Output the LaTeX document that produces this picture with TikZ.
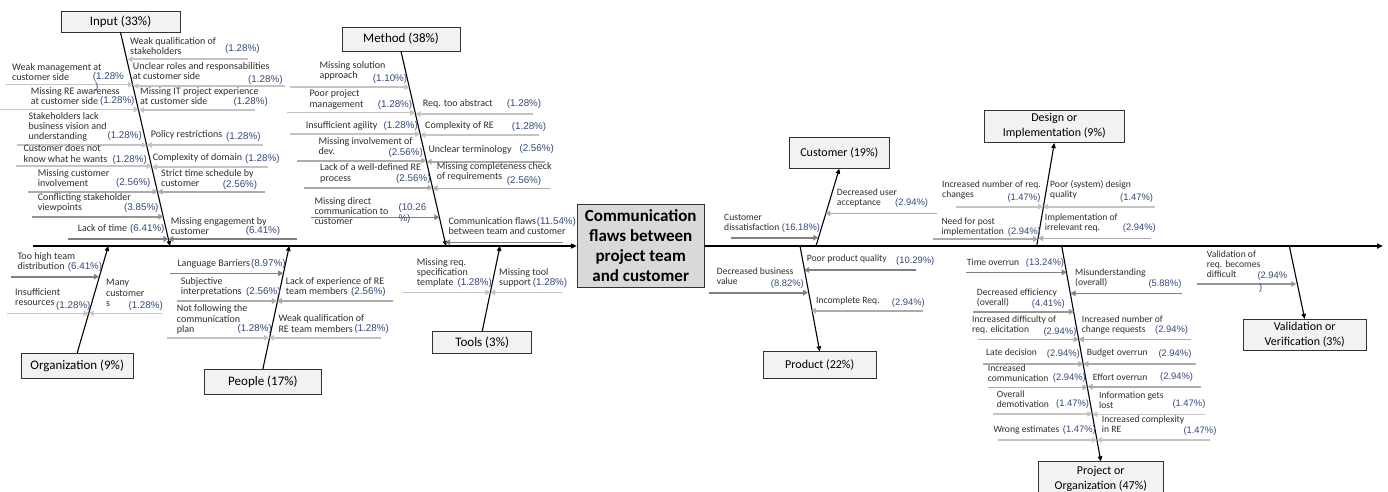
\documentclass[tikz,border=0pt]{standalone}
\usepackage{fontspec}
\setmainfont{Carlito}
\newfontfamily\pctfont{Liberation Sans}
\usetikzlibrary{arrows.meta}
\definecolor{pctblue}{RGB}{52,72,122}
\definecolor{ga}{RGB}{196,196,196}
\definecolor{gb}{RGB}{171,171,171}
\definecolor{gc}{RGB}{150,150,150}
\definecolor{gd}{RGB}{128,128,128}
\definecolor{boxfill}{RGB}{242,242,242}
\definecolor{mainfill}{RGB}{217,217,217}
\newcounter{labc}
\newcounter{pctc}
\newcommand\clab[3]{\stepcounter{labc}\node[lbl] (lab\arabic{labc}) at (#1,#2-7) {\rule{0pt}{7pt}#3};}
\newcommand\cpct[3]{\stepcounter{pctc}\node[pct] (pct\arabic{pctc}) at (#1,#2) {#3};}
\newcommand\carr[4]{\draw[sub,#1] (#2,#3) -- (#4,#3);}
\begin{document}
\begin{tikzpicture}[x=1pt,y=-1pt,
  lbl/.style={anchor=north west,inner sep=0pt,align=left,font=\fontsize{10}{10.2}\selectfont,text=black!82},
  pct/.style={anchor=base west,inner sep=0pt,font=\pctfont\fontsize{9.8}{10}\selectfont,text=pctblue},
  sub/.style={line width=1.6pt,-{Triangle[length=5pt,width=5.5pt]}},
  cat/.style={draw=black!80,fill=boxfill,line width=0.8pt,inner sep=0pt,align=center,font=\fontsize{13}{15}\selectfont},
  catr/.style={cat,font=\fontsize{12}{15}\selectfont},
  branch/.style={line width=1.1pt,draw=black,-{Triangle[length=5pt,width=4.5pt]}},
  spine/.style={line width=1.6pt,draw=black,-{Triangle[length=6pt,width=5pt]}}]
\fill[white] (0,0) rectangle (1388,492);
\useasboundingbox (0,0) rectangle (1388,492);

% main effect
\node[draw=black!80,fill=mainfill,line width=0.9pt,minimum width=126.7,minimum height=83.3,inner sep=0pt,align=center,font=\bfseries\fontsize{17}{20}\selectfont] (main) at (640.7,246) {Communication\\flaws between\\project team\\and customer};
\coordinate (sL) at (33,246);
\coordinate (sR) at (1383,246);
\draw[spine] (sL) -- (main.west);
\draw[spine] (main.east) -- (sR);

% category boxes
\node[cat,minimum width=119,minimum height=21] (input) at (120.5,21.5) {Input (33\%)};
\node[cat,minimum width=118,minimum height=24] (method) at (401,39) {Method (38\%)};
\node[cat,minimum width=112.3,minimum height=24.7] (org) at (77.2,365.7) {Organization (9\%)};
\node[cat,minimum width=117.7,minimum height=24.7] (people) at (262.9,381.7) {People (17\%)};
\node[cat,minimum width=99,minimum height=21.6] (tools) at (482.2,342.5) {Tools (3\%)};
\node[catr,minimum width=100,minimum height=31] (customer) at (839.3,152.8) {Customer (19\%)};
\node[catr,minimum width=112.7,minimum height=26.6] (product) at (819.7,365) {Product (22\%)};
\node[catr,minimum width=140,minimum height=32.7] (design) at (1054.3,126.3) {Design or\\Implementation (9\%)};
\node[catr,minimum width=125,minimum height=34.6] (project) at (1100.8,479) {Project or\\Organization (47\%)};
\node[catr,minimum width=122.7,minimum height=31.4] (valid) at (1304.7,335) {Validation or\\Verification (3\%)};

% points on spine
\coordinate (pInput) at (170,246);
\coordinate (pMethod) at (446,246);
\coordinate (pOrg) at (108.3,246);
\coordinate (pPeople) at (289.3,246);
\coordinate (pTools) at (500,246);
\coordinate (pCust) at (816,246);
\coordinate (pProd) at (800,246);
\coordinate (pDesign) at (1036.7,246);
\coordinate (pProj) at (1061.7,246);
\coordinate (pValid) at (1289.3,246);

\draw[branch] (input.south) -- (pInput);
\draw[branch] (method.south) -- (pMethod);
\draw[branch] (org.north) -- (pOrg);
\draw[branch] (people.north) -- (pPeople);
\draw[branch] (tools.north) -- (pTools);
\draw[branch] (pCust) -- (customer.south);
\draw[branch] (pProd) -- (product.north);
\draw[branch] (pDesign) -- (design.south);
\draw[branch] (pProj) -- (project.north);
\draw[branch] (pValid) -- (valid.north);

% ---------- Input ----------
\carr{ga}{248}{59.3}{127.3}
\clab{130}{44.3}{Weak qualification of\\stakeholders}
\cpct{225}{51.7}{(1.28\%)}
\carr{ga}{285}{86}{133.4}
\clab{132.7}{69.3}{Unclear roles and responsabilities\\at customer side}
\cpct{248}{82.3}{(1.28\%)}
\carr{ga}{255}{110}{138.9}
\clab{140}{94.3}{Missing IT project experience\\at customer side}
\cpct{233.3}{104.3}{(1.28\%)}
\carr{ga}{263}{145}{146.9}
\clab{150.7}{137.7}{Policy restrictions}
\cpct{226}{139.3}{(1.28\%)}
\carr{ga}{268}{167}{151.9}
\clab{152.7}{160}{Complexity of domain}
\cpct{245}{161.7}{(1.28\%)}
\carr{gb}{265}{191.7}{157.6}
\clab{161}{176}{Strict time schedule by\\customer}
\cpct{222.7}{187.7}{(2.56\%)}
\carr{gd}{297}{239}{168.4}
\clab{170.7}{224}{Missing engagement by\\customer}
\cpct{245.7}{233.3}{(6.41\%)}

\carr{ga}{6}{84.5}{133}
\clab{12}{70}{Weak management at\\customer side}
\node[pct,anchor=north west,align=left,font=\pctfont\fontsize{9.8}{8}\selectfont] (pctwm) at (92.7,72) {(1.28\%\\\hspace{2.3pt})};
\carr{ga}{0}{109.5}{138.7}
\clab{30.7}{94.3}{Missing RE awareness\\at customer side}
\cpct{100}{104}{(1.28\%)}
\carr{ga}{17}{145}{146.9}
\clab{28.3}{119}{Stakeholders lack\\business vision and\\understanding}
\cpct{107.3}{138.3}{(1.28\%)}
\carr{ga}{16}{166}{151.7}
\clab{23.3}{151.7}{Customer does not\\know what he wants}
\cpct{112.3}{162.3}{(1.28\%)}
\carr{gb}{28}{191.7}{157.6}
\clab{37.7}{176}{Missing customer\\involvement}
\cpct{116}{185.7}{(2.56\%)}
\carr{gc}{32}{216.7}{163.4}
\clab{37.7}{200}{Conflicting stakeholder\\viewpoints}
\cpct{124}{210.7}{(3.85\%)}
\carr{gd}{68}{239}{168.4}
\clab{77.7}{231}{Lack of time}
\cpct{130}{231.7}{(6.41\%)}

% ---------- Method ----------
\carr{ga}{290}{87.3}{409.4}
\clab{319.3}{68.3}{Missing solution\\approach}
\cpct{372.7}{81.7}{(1.10\%)}
\carr{ga}{287.3}{112.7}{415.2}
\clab{309.3}{96.7}{Poor project\\management}
\cpct{377.7}{107.3}{(1.28\%)}
\carr{ga}{290}{134}{420.2}
\clab{305.7}{128.3}{Insufficient agility}
\cpct{383.3}{128.3}{(1.28\%)}
\carr{gb}{297.3}{160.7}{426.3}
\clab{318.3}{144}{Missing involvement of\\dev.}
\cpct{388.3}{155.7}{(2.56\%)}
\carr{gb}{304}{187.7}{432.5}
\clab{320}{170}{Lack of a well-defined RE\\[1pt]process}
\cpct{396}{181.7}{(2.56\%)}
\carr{gd}{310.7}{217.3}{439.3}
\clab{314.3}{204}{Missing direct\\communication to\\customer}
\cpct{398.3}{210}{(10.26}
\cpct{398.3}{221.7}{\%)}

\carr{ga}{533.3}{114}{415.5}
\clab{422.7}{106}{Req. too abstract}
\cpct{506.7}{106.7}{(1.28\%)}
\carr{ga}{539.3}{135}{420.4}
\clab{425}{128.3}{Complexity of RE}
\cpct{511.7}{129.3}{(1.28\%)}
\carr{gb}{545}{161.7}{426.6}
\clab{428.3}{152.3}{Unclear terminology}
\cpct{519.3}{151.7}{(2.56\%)}
\carr{gb}{550}{188.3}{432.6}
\clab{436.7}{169.3}{Missing completeness check\\of requirements}
\cpct{506.7}{183.3}{(2.56\%)}
\carr{gd}{563.3}{242.3}{445.2}
\clab{448.3}{224.3}{Communication flaws\\between team and customer}
\cpct{536.7}{224}{(11.54\%)}

% ---------- Organization ----------
\carr{gd}{11}{276.7}{99}
\clab{17.3}{259.3}{Too high team\\distribution}
\cpct{67.7}{269.3}{(6.41\%)}
\carr{ga}{7.3}{313.3}{88.6}
\clab{15}{295}{Insufficient\\resources}
\cpct{56}{308.3}{(1.28\%)}
\carr{ga}{161.7}{313.3}{88.6}
\clab{106}{285.7}{Many\\customer\\[0.6pt]s}
\cpct{128.3}{308.7}{(1.28\%)}

% ---------- People ----------
\carr{gd}{170}{273.3}{283.1}
\clab{177.3}{266.7}{Language Barriers}
\cpct{251}{266.7}{(8.97\%)}
\carr{gb}{176.7}{301}{276.9}
\clab{180.7}{284}{Subjective\\interpretations}
\cpct{246}{294}{(2.56\%)}
\carr{gb}{393.3}{301}{276.9}
\clab{285.7}{284}{Lack of experience of RE\\team members}
\cpct{351}{294}{(2.56\%)}
\carr{ga}{167.3}{337.7}{268.9}
\clab{176.7}{311.7}{Not following the\\communication\\plan}
\cpct{237.3}{331.7}{(1.28\%)}
\carr{ga}{381}{337.7}{268.9}
\clab{278.3}{321.7}{Weak qualification of\\RE team members}
\cpct{354.3}{331.7}{(1.28\%)}

% ---------- Tools ----------
\carr{ga}{401.7}{292.3}{490.4}
\clab{416.7}{265}{Missing req.\\specification\\template}
\cpct{457.3}{285}{(1.28\%)}
\carr{ga}{561.7}{292.3}{490.4}
\clab{499}{275}{Missing tool\\support}
\cpct{532.7}{285}{(1.28\%)}

% ---------- right side (effects) ----------
\begin{scope}[lbl/.append style={font=\fontsize{9.6}{10}\selectfont},
              pct/.append style={font=\pctfont\fontsize{9.4}{10}\selectfont}]
% Customer
\carr{gd}{730.7}{237.7}{818.3}
\clab{724}{220}{Customer\\dissatisfaction}
\cpct{781.7}{230}{(16.18\%)}
\carr{gb}{936.7}{213.3}{825.3}
\clab{836.7}{195}{Decreased user\\acceptance}
\cpct{895}{205}{(2.94\%)}
% Product
\carr{gd}{916}{270}{804.1}
\clab{806.7}{261.7}{Poor product quality}
\cpct{896}{263.5}{(10.29\%)}
\carr{gd}{709.3}{292.7}{808}
\clab{716.7}{274}{Decreased business\\value}
\cpct{770.7}{286.7}{(8.82\%)}
\carr{gb}{922.7}{310.7}{811.1}
\clab{816}{303.3}{Incomplete Req.}
\cpct{891.7}{305}{(2.94\%)}
% Design
\carr{ga}{956}{206.7}{1043}
\clab{942}{187.3}{Increased number of req.\\changes}
\cpct{1007.3}{200}{(1.47\%)}
\carr{ga}{1155}{206.7}{1043}
\clab{1050}{187.3}{Poor (system) design\\quality}
\cpct{1120}{200}{(1.47\%)}
\carr{gb}{933.3}{239}{1038.1}
\clab{941.3}{224}{Need for post\\implementation}
\cpct{1007.7}{234}{(2.94\%)}
\carr{gb}{1150.7}{238.3}{1038.2}
\clab{1044.7}{220.7}{Implementation of\\irrelevant req.}
\cpct{1122.7}{230.7}{(2.94\%)}
% Project
\carr{gd}{966}{272.3}{1066.7}
\clab{966.7}{265.7}{Time overrun}
\cpct{1025.7}{265.7}{(13.24\%)}
\carr{gd}{1181.7}{293.3}{1070.5}
\clab{1075}{275.7}{Misunderstanding\\(overall)}
\cpct{1148.3}{286.7}{(5.88\%)}
\carr{gc}{973.3}{311.7}{1073.9}
\clab{976.7}{295}{Decreased efficiency\\(overall)}
\cpct{1031.7}{306}{(4.41\%)}
\carr{gb}{978.3}{339.3}{1078.8}
\clab{972}{322.7}{Increased difficulty of\\req. elicitation}
\cpct{1043.3}{334}{(2.94\%)}
\carr{gb}{1190.7}{339.3}{1078.8}
\clab{1081.7}{322.7}{Increased number of\\change requests}
\cpct{1155}{332.7}{(2.94\%)}
\carr{gb}{983.3}{364}{1083.3}
\clab{986}{355}{Late decision}
\cpct{1046.7}{356.7}{(2.94\%)}
\carr{gb}{1196}{364}{1083.3}
\clab{1086.7}{355.7}{Budget overrun}
\cpct{1158.3}{356.7}{(2.94\%)}
\carr{gb}{988.3}{387.3}{1087.5}
\clab{987.7}{371.7}{Increased\\communication}
\cpct{1052.7}{380}{(2.94\%)}
\carr{gb}{1200.7}{386.7}{1087.5}
\clab{1092.7}{380}{Effort overrun}
\cpct{1160}{379.3}{(2.94\%)}
\carr{ga}{993.3}{414}{1092.3}
\clab{996.7}{397.3}{Overall\\demotivation}
\cpct{1056}{406}{(1.47\%)}
\carr{ga}{1205}{414.3}{1092.3}
\clab{1099}{398.3}{Information gets\\lost}
\cpct{1172.3}{406.7}{(1.47\%)}
\carr{ga}{998.3}{440}{1097}
\clab{993.3}{432.7}{Wrong estimates}
\cpct{1062.7}{432.7}{(1.47\%)}
\carr{ga}{1210}{440}{1097}
\clab{1101.7}{422.7}{Increased complexity\\in RE}
\cpct{1183.3}{433.3}{(1.47\%)}
% Validation
\carr{gc}{1196.7}{284}{1296.3}
\clab{1206.7}{257.3}{Validation of\\req. becomes\\difficult}
\cpct{1257.3}{278.3}{(2.94\%}
\cpct{1259}{290.7}{)}
\end{scope}
\end{tikzpicture}
\end{document}
